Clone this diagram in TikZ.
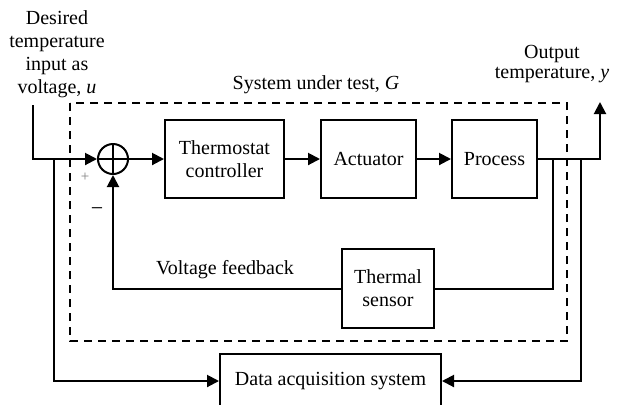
\documentclass[tikz,border=0pt]{standalone}
\usepackage{fontspec}
\setmainfont{Liberation Serif}
\usetikzlibrary{arrows.meta, positioning}

\begin{document}
\begin{tikzpicture}[>={Triangle[length=6pt,width=6pt]}, x=0.5pt, y=-0.5pt,
        line width=1pt, font=\fontsize{10}{11.5}\selectfont,
        block/.style={draw, align=center, inner sep=0pt, minimum height=39pt},
        node distance=17.5pt]

            \path[use as bounding box, clip] (0,0) rectangle (622,404);

            \node[circle, draw, minimum size=15pt, inner sep=0pt] (sum) at (113,159) {};
            \draw (sum.west) -- (sum.east) (sum.north) -- (sum.south);
            \node[block, minimum width=59.5pt, right=of sum] (ctrl) {Thermostat\\controller};
            \node[block, minimum width=47.5pt, right=of ctrl] (act) {Actuator};
            \node[block, minimum width=42.5pt, right=17pt of act] (proc) {Process};
            \node[block, minimum width=46pt, minimum height=39.5pt] (sensor) at (388,288.5) {Thermal\\sensor};
            \node[block, minimum width=110.5pt, minimum height=27pt] (daq) at (330.5,381) {Data acquisition system};

            % system under test
            \draw[dash pattern=on 4pt off 3pt] (70,103) rectangle (567,341);

            \node[align=center] (inlabel) at (57,54) {Desired\\temperature\\input as\\voltage, \textit{u}};
            \node (gname) at (316,85) {System under test, \textit{G}};
            \node[align=center, font=\fontsize{10}{9.8}\selectfont] (outlabel) at (552,64) {Output\\temperature, \textit{y}};
            \node (fblabel) at (225,270) {Voltage feedback};
            \node[font=\fontsize{7.5}{8}\selectfont, gray] (plus) at (85,177) {+};
            \node[font=\fontsize{11}{12}\selectfont] (minus) at (97,212) {−};

            \coordinate (in) at (33,105);
            \coordinate (out) at (600,102);
            \coordinate (tapin) at (54,159);
            \coordinate (tapfb) at (553,159);
            \coordinate (tapout) at (581,159);

            \draw[->] (in) |- (sum.west);
            \draw[->] (sum.east) -- (ctrl);
            \draw[->] (ctrl) -- (act);
            \draw[->] (act) -- (proc);
            \draw[->] (proc.east) -| (out);
            \draw (tapfb) |- (sensor.east);
            \draw[->] (sensor.west) -| (sum.south);
            \draw[->] (tapin) |- (daq.west);
            \draw[->] (tapout) |- (daq.east);
        \end{tikzpicture}
\end{document}
